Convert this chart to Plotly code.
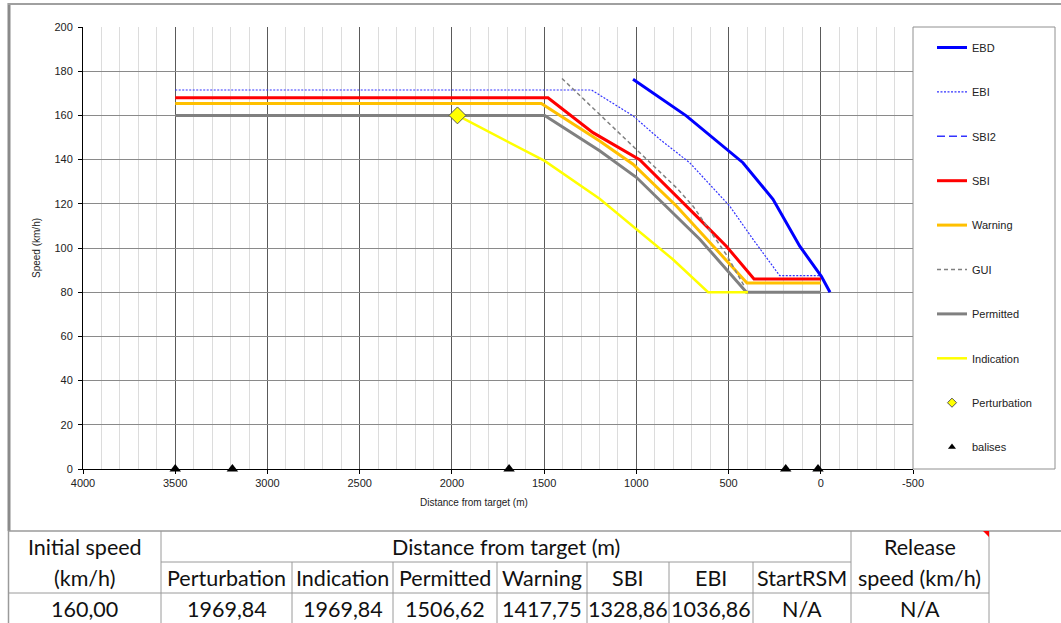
import plotly.graph_objects as go

# ---------------- data ----------------
ebd_x = [1018, 729, 422, 259, 114, -3, -50]
ebd_y = [176.4, 159.8, 138.6, 122.0, 100.8, 87.2, 80.0]

ebi_x = [3500, 1243, 1018, 873, 711, 494, 367, 223, 0]
ebi_y = [171.5, 171.5, 159.8, 149.2, 138.6, 119.0, 103.9, 87.5, 87.5]

sbi_x = [3500, 1479, 1235, 982, 674, 512, 362, 0]
sbi_y = [168.0, 168.0, 152.2, 140.0, 114.4, 100.8, 86.0, 86.0]

warn_x = [3500, 1515, 1199, 1018, 783, 530, 400, 0]
warn_y = [165.4, 165.4, 148.4, 137.9, 119.0, 96.3, 84.2, 84.2]

gui_x = [1403, 1235, 1000, 783, 693, 512, 410]
gui_y = [176.7, 163.4, 144.7, 127.3, 119.0, 97.0, 82.0]

perm_x = [3500, 1497, 1199, 1000, 656, 403, 0]
perm_y = [160.0, 160.0, 144.0, 132.0, 104.0, 80.0, 80.0]

ind_x = [1969.84, 1497, 1199, 1000, 801, 611, 395]
ind_y = [160.0, 139.4, 122.3, 108.4, 94.8, 80.0, 80.0]

pert_x = [1969.84]
pert_y = [160.0]

balise_x = [3500, 3190, 1690, 190, 15]
balise_y = [0, 0, 0, 0, 0]

x_ticks = [4000, 3500, 3000, 2500, 2000, 1500, 1000, 500, 0, -500]
x_tick_labels = ["4000", "3500", "3000", "2500", "2000", "1500", "1000", "500", "0", "-500"]
y_ticks = [0, 20, 40, 60, 80, 100, 120, 140, 160, 180, 200]

table_header1 = ["Initial speed", "Distance from target (m)", "Release"]
table_header2 = ["(km/h)", "Perturbation", "Indication", "Permitted", "Warning",
                 "SBI", "EBI", "StartRSM", "speed (km/h)"]
table_values = ["160,00", "1969,84", "1969,84", "1506,62", "1417,75",
                "1328,86", "1036,86", "N/A", "N/A"]

# ---------------- layout helpers ----------------
W, H = 1061, 623
L, R, T, B = 83, 913, 27, 469


def X(px):
    return (px - L) / (R - L)


def Y(py):
    return (B - py) / (B - T)


fig = go.Figure()

legend_font = dict(family="Liberation Sans, Arial", size=11, color="#222")


def line_trace(x, y, name, color, width, dash="solid"):
    return go.Scatter(x=x, y=y, mode="lines", name=name, legendgroup=name,
                      line=dict(color=color, width=width, dash=dash))


fig.add_trace(line_trace(ebd_x, ebd_y, "EBD", "#0000ff", 3))
fig.add_trace(line_trace(ebi_x, ebi_y, "EBI", "#3333ff", 1.2, "2px,1.5px"))
fig.add_trace(line_trace([None], [None], "SBI2", "#3333ff", 1.5, "8px,4px"))
fig.add_trace(line_trace(sbi_x, sbi_y, "SBI", "#ff0000", 3))
fig.add_trace(line_trace(warn_x, warn_y, "Warning", "#ffc000", 3))
fig.add_trace(line_trace(gui_x, gui_y, "GUI", "#808080", 1.5, "4px,3px"))
fig.add_trace(line_trace(perm_x, perm_y, "Permitted", "#808080", 3))
fig.add_trace(line_trace(ind_x, ind_y, "Indication", "#ffff00", 2.5))
# Perturbation: legend entry (small symbol, as in the reference) + chart marker
fig.add_trace(go.Scatter(x=[None], y=[None], mode="markers", name="Perturbation",
                         legendgroup="Perturbation",
                         marker=dict(symbol="diamond", size=7, color="#ffff00",
                                     line=dict(color="#555", width=1))))
fig.add_trace(go.Scatter(x=pert_x, y=pert_y, mode="markers", name="Perturbation",
                         legendgroup="Perturbation", showlegend=False,
                         marker=dict(symbol="diamond", size=13, color="#ffff00",
                                     line=dict(color="#555", width=1))))
fig.add_trace(go.Scatter(x=[None], y=[None], mode="markers", name="balises",
                         legendgroup="balises",
                         marker=dict(symbol="triangle-up", size=7, color="#000000")))
fig.add_trace(go.Scatter(x=balise_x, y=balise_y, mode="markers", name="balises",
                         legendgroup="balises", cliponaxis=False, showlegend=False,
                         marker=dict(symbol="triangle-up", size=10, color="#000000")))

shapes = []
# legend box
shapes.append(dict(type="rect", xref="paper", yref="paper", x0=X(913), x1=X(1055),
                   y0=Y(469), y1=Y(27), line=dict(color="#909090", width=1)))
# chart area border (left + top)
shapes.append(dict(type="line", xref="paper", yref="paper", x0=X(9), x1=X(9),
                   y0=Y(3), y1=Y(531), line=dict(color="#8a8a8a", width=3)))
shapes.append(dict(type="line", xref="paper", yref="paper", x0=X(8), x1=X(1061),
                   y0=Y(4), y1=Y(4), line=dict(color="#a0a0a0", width=2)))

# table grid
tcol = "#9a9a9a"


def hl(y, x0, x1, w=1):
    shapes.append(dict(type="line", xref="paper", yref="paper", x0=X(x0), x1=X(x1),
                       y0=Y(y), y1=Y(y), line=dict(color=tcol, width=w)))


def vl(x, y0, y1, w=1):
    shapes.append(dict(type="line", xref="paper", yref="paper", x0=X(x), x1=X(x),
                       y0=Y(y0), y1=Y(y1), line=dict(color=tcol, width=w)))


hl(531, 8, 1061, 1.5)
hl(562, 161, 851)
hl(593, 8, 989)
vl(8.5, 531, 623, 1.5)
vl(161, 531, 623)
for cx in [292, 393, 497, 587, 669, 753]:
    vl(cx, 562, 623)
vl(851, 531, 623)
vl(989, 531, 623)
# red comment marker
shapes.append(dict(type="path", xref="paper", yref="paper",
                   path=f"M {X(983)} {Y(531)} L {X(989)} {Y(531)} L {X(989)} {Y(537)} Z",
                   fillcolor="#ff0000", line=dict(width=0)))

annotations = []
tfont = dict(family="Lato, Open Sans", size=21.5, color="#111")


def ann(text, px, py, font=tfont, angle=0):
    annotations.append(dict(text=text, x=X(px), y=Y(py), xref="paper", yref="paper",
                            showarrow=False, font=font, textangle=angle,
                            xanchor="center", yanchor="middle"))


# axis titles
afont = dict(family="Liberation Sans, Arial", size=10, color="#222")
ann("Speed (km/h)", 36, 248, afont, -90)
ann("Distance from target (m)", 474, 502, afont)

cols = [8, 161, 292, 393, 497, 587, 669, 753, 851, 989]
ann(table_header1[0], (cols[0] + cols[1]) / 2, 547)
ann(table_header1[1], (cols[1] + cols[8]) / 2, 547)
ann(table_header1[2], (cols[8] + cols[9]) / 2, 547)
for i, t in enumerate(table_header2):
    ann(t, (cols[i] + cols[i + 1]) / 2, 578)
for i, t in enumerate(table_values):
    ann(t, (cols[i] + cols[i + 1]) / 2, 609)

tickfont = dict(family="Liberation Sans, Arial", size=11, color="#222")

fig.update_layout(
    width=W, height=H,
    margin=dict(l=L, r=W - R, t=T, b=H - B, pad=0),
    paper_bgcolor="white", plot_bgcolor="white",
    showlegend=True,
    legend=dict(x=X(932), y=1 - 6 / 442, xanchor="left", yanchor="top",
                font=legend_font, bgcolor="rgba(0,0,0,0)", borderwidth=0,
                traceorder="grouped", tracegroupgap=25.4, itemwidth=30),
    xaxis=dict(range=[4000, -500], autorange=False, tickvals=x_ticks,
               ticktext=x_tick_labels,
               showgrid=True, gridcolor="#5a5a5a", gridwidth=1,
               minor=dict(dtick=100, showgrid=True, gridcolor="#dcdcdc", gridwidth=1),
               showline=True, linecolor="#000", linewidth=1,
               ticks="outside", ticklen=4, tickcolor="#000",
               tickfont=tickfont, zeroline=False),
    yaxis=dict(range=[0, 200], autorange=False, tickvals=y_ticks,
               showgrid=True, gridcolor="#8a8a8a", gridwidth=1,
               showline=True, linecolor="#000", linewidth=1,
               ticks="outside", ticklen=4, tickcolor="#000",
               ticklabelstandoff=3,
               tickfont=tickfont, zeroline=False),
    shapes=shapes,
    annotations=annotations,
)

fig.write_html("out.html", config={"displayModeBar": False},
               post_script="document.body.style.margin='0px';")
